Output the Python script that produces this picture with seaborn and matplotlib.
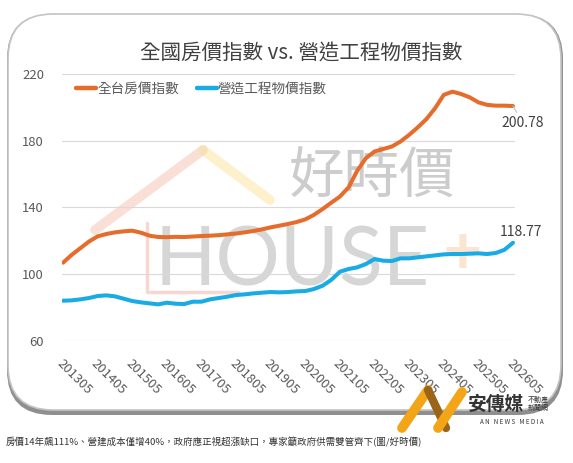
import matplotlib
matplotlib.use("Agg")
import matplotlib.pyplot as plt
from matplotlib.patches import FancyBboxPatch
from matplotlib.lines import Line2D
import seaborn as sns
import numpy as np
import pandas as pd

# quarterly points, 2013-05 .. 2026-05
periods = pd.period_range("2013-05", "2026-05", freq="3M").strftime("%Y%m").tolist()

house_index = [
    106.8, 111.5, 115.5, 119.5, 122.6, 124.0, 125.0, 125.6, 126.0, 124.8,
    123.0, 122.2, 122.1, 122.3, 122.2, 122.5, 122.8, 123.0, 123.3, 123.8,
    124.3, 125.0, 125.8, 126.8, 128.0, 129.0, 130.0, 131.2, 132.8, 135.5,
    139.0, 142.8, 146.5, 152.0, 162.0, 169.5, 173.5, 175.0, 176.5, 179.5,
    183.5, 188.0, 193.0, 199.5, 207.5, 209.4, 208.0, 206.0, 203.0, 201.5,
    201.0, 201.0, 200.78,
]
build_index = [
    84.0, 84.2, 84.8, 85.6, 86.8, 87.2, 86.6, 85.2, 83.8, 83.0,
    82.4, 81.8, 82.8, 82.2, 82.0, 83.4, 83.4, 84.8, 85.6, 86.4,
    87.4, 87.8, 88.4, 88.8, 89.2, 89.0, 89.2, 89.6, 89.8, 91.0,
    93.0, 96.5, 101.4, 103.0, 104.0, 106.0, 109.0, 108.0, 107.8, 109.4,
    109.4, 110.0, 110.6, 111.2, 111.8, 112.0, 112.0, 112.2, 112.4, 112.0,
    112.6, 114.5, 118.77,
]
series_names = ["全台房價指數", "營造工程物價指數"]
series_colors = ["#E66C2C", "#19ABE4"]
y_ticks = [60, 100, 140, 180, 220]

title = "全國房價指數 vs. 營造工程物價指數"
caption = "房價14年飆111%、營建成本僅增40%，政府應正視超漲缺口，專家籲政府供需雙管齊下(圖/好時價)"

sns.set_style("white")
plt.rcParams["font.family"] = ["Noto Sans CJK TC", "DejaVu Sans"]

n = len(periods)
df = pd.DataFrame({
    "pos": np.tile(np.arange(n), 2),
    "value": house_index + build_index,
    "series": [series_names[0]] * n + [series_names[1]] * n,
})

W, H = 573, 463
fig = plt.figure(figsize=(W / 100, H / 100), dpi=100)


def px(x, y):
    # pixel (from top-left) -> inches for dpi_scale_trans
    return x / 100, (H - y) / 100


def deco_line(xs, ys, z, **kw):
    fig.add_artist(Line2D([x / 100 for x in xs], [(H - y) / 100 for y in ys],
                          transform=fig.dpi_scale_trans, zorder=z, **kw))


# card frame with shadow
shadow = FancyBboxPatch(px(7, 415), (563 - 7) / 100, (415 - 14) / 100,
                        boxstyle="round,pad=0,rounding_size=0.45",
                        transform=fig.dpi_scale_trans, facecolor="#8f8f8f",
                        edgecolor="none", zorder=-3)
card = FancyBboxPatch(px(8, 410), (561 - 8) / 100, (410 - 14) / 100,
                      boxstyle="round,pad=0,rounding_size=0.45",
                      transform=fig.dpi_scale_trans, facecolor="white",
                      edgecolor="#c4c4c4", linewidth=1.2, zorder=-2)
fig.add_artist(shadow)
fig.add_artist(card)

# watermark
deco_line([95, 203], [230, 150], -1, color="#f4b9a8", lw=7, alpha=0.45,
          solid_capstyle="round")
deco_line([203, 270], [150, 200], -1, color="#f9df90", lw=7, alpha=0.45,
          solid_capstyle="round")
deco_line([147, 147, 238], [223, 292, 292], -1, color="#f2a89a", lw=2.5,
          alpha=0.45)
fig.text(372 / W, 1 - 178 / H, "好時價", fontsize=40, color="#9a9a9a",
         alpha=0.5, ha="center", va="center", zorder=-1)
fig.text(292 / W, 1 - 262 / H, "HOUSE", fontsize=58, color="#a5a5a5",
         alpha=0.45, ha="center", va="center", family="Lato", zorder=-1)
fig.text(462 / W, 1 - 256 / H, "+", fontsize=46, color="#f4b27a",
         alpha=0.35, ha="center", va="center", fontweight="bold", zorder=-1)

ax = fig.add_axes([62 / W, 1 - 340.7 / H, (515 - 62) / W, (340.7 - 74) / H])
ax.patch.set_alpha(0)

sns.lineplot(data=df, x="pos", y="value", hue="series",
             palette=dict(zip(series_names, series_colors)),
             linewidth=2.9, ax=ax, zorder=3)

ax.set_xlim(-0.12, n - 1 + 0.23)
ax.set_ylim(60, 220)
ax.set_yticks(y_ticks)
ax.set_xticks(np.arange(0, n, 4))
ax.set_xticklabels([periods[i] for i in range(0, n, 4)], rotation=-45,
                   ha="left", va="top", rotation_mode="anchor")
ax.tick_params(axis="x", length=0, pad=12, labelsize=9.4, labelcolor="#595959")
ax.tick_params(axis="y", length=0, pad=13, labelsize=9.4, labelcolor="#595959")
ax.set_xlabel("")
ax.set_ylabel("")
ax.grid(axis="y", color="#d9d9d9", linewidth=0.8)
ax.grid(axis="x", visible=False)
for s in ax.spines.values():
    s.set_visible(False)

handles, labels = ax.get_legend_handles_labels()
leg = ax.legend(handles, labels, loc="center left",
                bbox_to_anchor=(76 / W, 1 - 89 / H),
                bbox_transform=fig.transFigure, ncol=2, frameon=False,
                fontsize=9.8, handlelength=1.5, handletextpad=0.05,
                columnspacing=1.3, borderpad=0, borderaxespad=0)
for t in leg.get_texts():
    t.set_color("#595959")
for h in leg.get_lines():
    h.set_linewidth(3.2)

# end labels
last = n - 1
ax.annotate(f"{house_index[-1]:.2f}", xy=(last, house_index[-1]),
            xytext=(7, -12), textcoords="offset points", ha="center",
            va="center", fontsize=10, color="#404040",
            arrowprops=dict(arrowstyle="-", color="#bfbfbf", lw=0.8,
                            shrinkA=0, shrinkB=6))
ax.annotate(f"{build_index[-1]:.2f}", xy=(last, build_index[-1]),
            xytext=(6, 8), textcoords="offset points", ha="center",
            va="center", fontsize=10, color="#404040")

fig.text(301 / W, 1 - 54 / H, title, fontsize=14.8, color="#404040",
         ha="center", va="center")

# logo
deco_line([402, 428], [428, 390], 5, color="#F2A516", lw=7)
deco_line([428, 446], [390, 428], 5, color="#9A6419", lw=6)
deco_line([438, 462], [428, 392], 5, color="#F2A516", lw=7)
fig.text(496 / W, 1 - 404 / H, "安傳媒", fontsize=13.5, fontweight="bold",
         color="#333333", ha="center", va="center")
fig.text(538 / W, 1 - 404 / H, "不動產\n新聞網", fontsize=5, color="#333333",
         ha="center", va="center", linespacing=1.0)
fig.text(512 / W, 1 - 422 / H, "A N   N E W S   M E D I A", fontsize=4.5,
         color="#333333", ha="center", va="center")

fig.text(6 / W, 1 - 442 / H, caption, fontsize=6.8, color="#333333",
         ha="left", va="center")

fig.savefig("out.png", dpi=100)
